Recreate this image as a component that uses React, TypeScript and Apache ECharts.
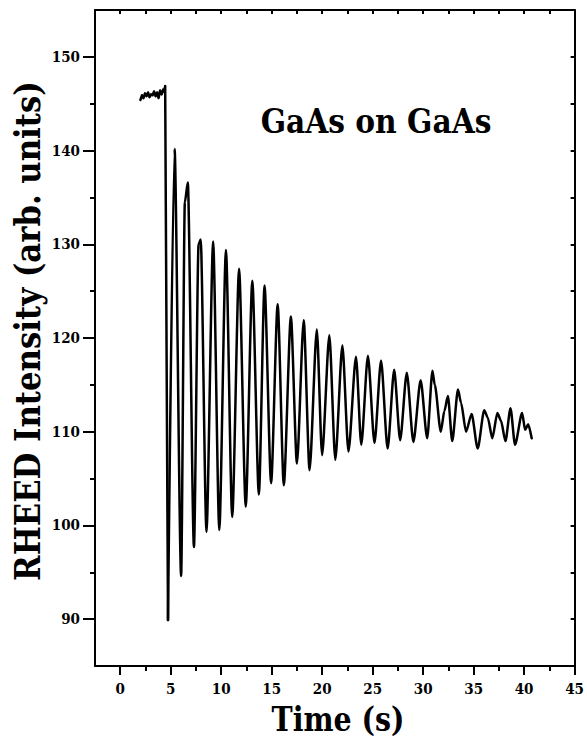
import React, { useEffect, useRef } from "react";
import * as echarts from "echarts";

// Time (s)
const time = [
  2.0, 2.15, 2.3, 2.45, 2.6, 2.75, 2.9, 3.05, 3.2, 3.35, 3.5, 3.65, 3.8, 3.95, 4.1, 4.25, 4.35, 4.45,
  4.73, 5.38, 6.03, 6.4, 6.69, 7.3, 7.76, 7.97, 8.54, 9.2, 9.81, 10.47, 11.09, 11.77, 12.43, 13.08,
  13.73, 14.29, 14.94, 15.59, 16.2, 16.9, 17.5, 18.17, 18.75, 19.47, 19.99, 20.71, 21.3, 22.0, 22.6,
  23.35, 23.87, 24.53, 25.18, 25.83, 26.48, 27.13, 27.72, 28.38, 29.03, 29.75, 30.4, 30.92, 31.15,
  31.75, 32.1, 32.45, 32.88, 33.45, 33.75, 34.25, 34.8, 35.4, 36.05, 36.4, 36.85, 37.35, 37.7, 38.15,
  38.65, 39.1, 39.8, 40.1, 40.4, 40.75,
];
// RHEED intensity (arb. units)
const intensity = [
  145.4, 145.9, 145.6, 146.1, 145.8, 146.2, 145.7, 146.0, 145.9, 146.3, 145.8, 146.2, 145.6, 146.4, 146.0, 146.5, 146.3, 146.9,
  89.9, 140.2, 94.6, 134.5, 136.6, 97.7, 130.0, 130.5, 99.3, 130.3, 99.5, 129.4, 100.9, 127.4, 102.0, 126.1,
  103.3, 125.6, 104.5, 123.6, 104.3, 122.3, 106.6, 121.9, 105.9, 120.9, 107.5, 120.3, 107.0, 119.2, 107.9,
  118.0, 108.6, 118.1, 108.8, 117.6, 108.2, 116.6, 109.1, 116.3, 108.9, 115.5, 109.3, 116.5, 115.0,
  110.0, 112.2, 113.8, 109.0, 114.5, 113.1, 110.0, 111.9, 108.2, 112.3, 111.5, 109.3, 112.0, 111.2, 109.0,
  112.5, 108.6, 112.0, 110.2, 110.8, 109.3,
];
// index of the deepest point, where the growth oscillations start
const growthStart = 18;

const xMajorTicks = [0, 5, 10, 15, 20, 25, 30, 35, 40, 45];
const xMinorTicks = [2.5, 7.5, 12.5, 17.5, 22.5, 27.5, 32.5, 37.5, 42.5];
const xTopTicks = [0, 2.5, 5, 7.5, 10, 12.5, 15, 17.5, 20, 22.5, 25, 27.5, 30, 32.5, 35, 37.5, 40, 42.5];
const yMajorTicks = [90, 100, 110, 120, 130, 140, 150];
const yMinorTicks = [95, 105, 115, 125, 135, 145];
const yRightTicks = [90, 95, 100, 105, 110, 115, 120, 125, 130, 135, 140, 145, 150];

const xTitle = "Time (s)";
const yTitle = "RHEED Intensity (arb. units)";
const annotation = "GaAs on GaAs";

export default function App() {
  const ref = useRef<HTMLDivElement>(null);
  useEffect(() => {
    const chart = echarts.init(ref.current as HTMLDivElement, null, { renderer: "svg" });
    const font = "DejaVu Serif Condensed, DejaVu Serif";
    const data = time.map((t, i) => [t, intensity[i]]);
    const lineStyle = { color: "#000", width: 2 };
    const xBase = { type: "value", min: -2.5, max: 45, splitLine: { show: false } };
    const yBase = { type: "value", min: 85, max: 155, splitLine: { show: false } };
    const labelStyle = {
      show: true,
      color: "#000",
      fontFamily: font,
      fontWeight: "bold",
      fontSize: 15,
    };
    const seriesBase = {
      type: "line",
      xAxisIndex: 0,
      yAxisIndex: 0,
      symbol: "none",
      showSymbol: false,
      lineStyle: { color: "#000", width: 2.5, join: "round", cap: "round" },
      silent: true,
    };
    chart.setOption({
      animation: false,
      backgroundColor: "#fff",
      textStyle: { fontFamily: font },
      grid: { left: 95, right: 7, top: 10, bottom: 72 },
      xAxis: [
        {
          ...xBase,
          position: "bottom",
          axisLine: { show: true, onZero: false, lineStyle },
          axisTick: { show: true, customValues: xMajorTicks, length: 9, lineStyle },
          axisLabel: { ...labelStyle, customValues: xMajorTicks, margin: 15 },
        },
        {
          ...xBase,
          position: "bottom",
          axisLine: { show: false, onZero: false },
          axisTick: { show: true, customValues: xMinorTicks, length: 5, lineStyle },
          axisLabel: { show: false },
        },
        {
          ...xBase,
          position: "top",
          axisLine: { show: true, onZero: false, lineStyle },
          axisTick: { show: true, inside: true, customValues: xTopTicks, length: 4, lineStyle },
          axisLabel: { show: false },
        },
      ],
      yAxis: [
        {
          ...yBase,
          position: "left",
          axisLine: { show: true, onZero: false, lineStyle },
          axisTick: { show: true, customValues: yMajorTicks, length: 12, lineStyle },
          axisLabel: { ...labelStyle, customValues: yMajorTicks, margin: 15 },
        },
        {
          ...yBase,
          position: "left",
          axisLine: { show: false, onZero: false },
          axisTick: { show: true, customValues: yMinorTicks, length: 5, lineStyle },
          axisLabel: { show: false },
        },
        {
          ...yBase,
          position: "right",
          axisLine: { show: true, onZero: false, lineStyle },
          axisTick: { show: true, inside: true, customValues: yRightTicks, length: 4, lineStyle },
          axisLabel: { show: false },
        },
      ],
      series: [
        { ...seriesBase, data: data.slice(0, growthStart + 1) },
        { ...seriesBase, data: data.slice(growthStart), smooth: 0.25, smoothMonotone: "x" },
      ],
      graphic: [
        {
          type: "text",
          x: 338,
          y: 719,
          scaleX: 0.93,
          style: {
            text: xTitle,
            fill: "#000",
            font: `bold 34px ${font}`,
            textAlign: "center",
            textVerticalAlign: "middle",
          },
        },
        {
          type: "text",
          x: 27,
          y: 331,
          rotation: Math.PI / 2,
          scaleX: 0.95,
          style: {
            text: yTitle,
            fill: "#000",
            font: `bold 36px ${font}`,
            textAlign: "center",
            textVerticalAlign: "middle",
          },
        },
        {
          type: "text",
          x: 376,
          y: 121,
          style: {
            text: annotation,
            fill: "#000",
            font: `bold 33px ${font}`,
            textAlign: "center",
            textVerticalAlign: "middle",
          },
        },
      ],
    });
    return () => chart.dispose();
  }, []);
  return (
    <div
      ref={ref}
      style={{ position: "absolute", left: 0, top: 0, width: 587, height: 738 }}
    />
  );
}
